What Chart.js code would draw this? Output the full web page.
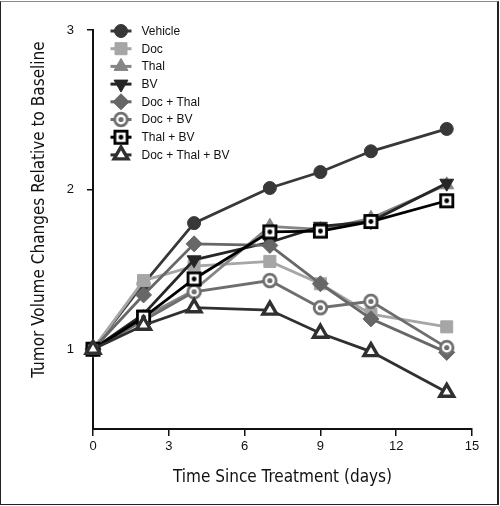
<!DOCTYPE html>
<html>
<head>
<meta charset="utf-8">
<script src="https://cdn.jsdelivr.net/npm/chart.js@4.4.0/dist/chart.umd.min.js"></script>
<style>
  html, body { margin: 0; padding: 0; background: #fff; }
  #frame {
    position: absolute; left: 0; top: 1px;
    width: 496px; height: 502px;
    border-left: 1px solid #222; border-right: 2px solid #222;
    border-top: 1px solid #888; border-bottom: 1px solid #222;
  }
  canvas { display: block; }
</style>
</head>
<body>
<div id="frame"><canvas id="chart" width="496" height="502"></canvas></div>
<script>
// data
const days = [0, 2, 4, 7, 9, 11, 14];
const seriesNames = ['Vehicle', 'Doc', 'Thal', 'BV', 'Doc + Thal', 'Doc + BV', 'Thal + BV', 'Doc + Thal + BV'];
const vehicle   = [1, 1.41, 1.79, 2.01, 2.11, 2.24, 2.38];
const doc       = [1, 1.43, 1.52, 1.55, 1.41, 1.22, 1.14];
const thal      = [1, 1.20, 1.37, 1.77, 1.75, 1.82, 2.03];
const bv        = [1, 1.22, 1.56, 1.67, 1.77, 1.80, 2.04];
const docThal   = [1, 1.34, 1.66, 1.65, 1.41, 1.19, 0.98];
const docBv     = [1, 1.18, 1.36, 1.43, 1.26, 1.30, 1.01];
const thalBv    = [1, 1.20, 1.44, 1.735, 1.74, 1.80, 1.93];
const docThalBv = [1, 1.15, 1.26, 1.245, 1.10, 0.985, 0.73];
const xTicks = [0, 3, 6, 9, 12, 15];
const yTicks = [1, 2, 3];
const xTitle = 'Time Since Treatment (days)';
const yTitle = 'Tumor Volume Changes Relative to Baseline';

// composite markers
function ringDot(color) {
  const c = document.createElement('canvas');
  c.width = 17; c.height = 17;
  const g = c.getContext('2d');
  g.beginPath(); g.arc(8.5, 8.5, 6.3, 0, Math.PI * 2);
  g.fillStyle = '#fff'; g.fill();
  g.lineWidth = 2.8; g.strokeStyle = color; g.stroke();
  g.beginPath(); g.arc(8.5, 8.5, 2.6, 0, Math.PI * 2);
  g.fillStyle = color; g.fill();
  return c;
}
function squareDot(color) {
  const c = document.createElement('canvas');
  c.width = 17; c.height = 17;
  const g = c.getContext('2d');
  g.fillStyle = '#fff'; g.fillRect(2, 2, 13, 13);
  g.lineWidth = 2.8; g.strokeStyle = color; g.strokeRect(2.4, 2.4, 12.2, 12.2);
  g.beginPath(); g.arc(8.5, 8.5, 2.4, 0, Math.PI * 2);
  g.fillStyle = color; g.fill();
  return c;
}

const styles = [
  { color: '#383838', bg: '#383838', point: 'circle', r: 6.5 },
  { color: '#a6a6a6', bg: '#a6a6a6', point: 'rect', r: 8.5 },
  { color: '#858585', bg: '#858585', point: 'triangle', r: 8 },
  { color: '#262626', bg: '#262626', point: 'triangle', r: 8, rot: 180 },
  { color: '#676767', bg: '#676767', point: 'rectRot', r: 8 },
  { color: '#6e6e6e', bg: '#fff', point: ringDot('#6e6e6e'), r: 8 },
  { color: '#000000', bg: '#fff', point: squareDot('#000'), r: 8 },
  { color: '#303030', bg: '#fff', point: 'triangle', r: 8, bw: 3.4 }
];
const values = [vehicle, doc, thal, bv, docThal, docBv, thalBv, docThalBv];

const datasets = values.map((vals, i) => ({
  label: seriesNames[i],
  data: vals.map((v, j) => ({ x: days[j], y: v })),
  borderColor: styles[i].color,
  backgroundColor: styles[i].bg,
  borderWidth: 2.8,
  pointStyle: styles[i].point,
  pointRadius: styles[i].r,
  pointRotation: styles[i].rot || 0,
  pointBorderColor: styles[i].color,
  pointBackgroundColor: styles[i].bg,
  pointBorderWidth: styles[i].bw || 1,
  order: values.length - i,
  clip: false
}));

// legend and y title drawn by hand
const extras = {
  id: 'extras',
  afterDraw(chart) {
    const ctx = chart.ctx;
    ctx.save();
    const y0 = 29, step = 17.7;
    datasets.forEach((ds, i) => {
      const y = y0 + i * step;
      ctx.strokeStyle = ds.borderColor;
      ctx.lineWidth = 3;
      ctx.beginPath(); ctx.moveTo(109.5, y); ctx.lineTo(130.5, y); ctx.stroke();
      ctx.fillStyle = ds.pointBackgroundColor;
      ctx.strokeStyle = ds.pointBorderColor;
      ctx.lineWidth = ds.pointBorderWidth;
      Chart.helpers.drawPoint(ctx, {
        pointStyle: ds.pointStyle, radius: ds.pointRadius,
        rotation: ds.pointRotation, borderWidth: ds.pointBorderWidth
      }, 120, y);
      ctx.fillStyle = '#111';
      ctx.font = '12px "Liberation Sans", Arial, sans-serif';
      ctx.textBaseline = 'middle';
      ctx.textAlign = 'left';
      ctx.fillText(ds.label, 140.5, y + 0.5);
    });
    const area = chart.chartArea;
    ctx.translate(39, (area.top + area.bottom) / 2 - 20);
    ctx.rotate(-Math.PI / 2);
    ctx.font = '17px "Liberation Sans Narrow", "DejaVu Sans Condensed", sans-serif';
    ctx.textAlign = 'center';
    ctx.fillStyle = '#111';
    ctx.fillText(yTitle, 0, 0);
    ctx.restore();
  }
};

new Chart(document.getElementById('chart'), {
  type: 'line',
  data: { datasets: datasets },
  options: {
    responsive: false,
    animation: false,
    layout: { padding: { left: 0, right: 25, top: 28, bottom: 0 } },
    plugins: { legend: { display: false }, tooltip: { enabled: false } },
    scales: {
      x: {
        type: 'linear', min: 0, max: 15,
        afterBuildTicks: axis => { axis.ticks = xTicks.map(v => ({ value: v })); },
        afterFit: axis => { axis.height = 75; },
        ticks: { color: '#111', padding: 3, font: { size: 13, family: '"Liberation Sans", Arial, sans-serif' } },
        grid: { display: true, drawOnChartArea: false, drawTicks: true, tickLength: 7, color: '#111', lineWidth: 1.5 },
        border: { color: '#111', width: 2 },
        title: {
          display: true, text: xTitle, color: '#111',
          font: { size: 17, family: '"Liberation Sans Narrow", "DejaVu Sans Condensed", sans-serif' },
          padding: { top: 0, bottom: 16 }
        }
      },
      y: {
        type: 'linear', min: 0.5, max: 3,
        afterBuildTicks: axis => { axis.ticks = yTicks.map(v => ({ value: v })); },
        afterFit: axis => { axis.width = 92; },
        ticks: { color: '#111', padding: 13, font: { size: 13, family: '"Liberation Sans", Arial, sans-serif' } },
        grid: { display: true, drawOnChartArea: false, drawTicks: true, tickLength: 6, color: '#111', lineWidth: 1.5 },
        border: { color: '#111', width: 2 }
      }
    }
  },
  plugins: [extras]
});
</script>
</body>
</html>
